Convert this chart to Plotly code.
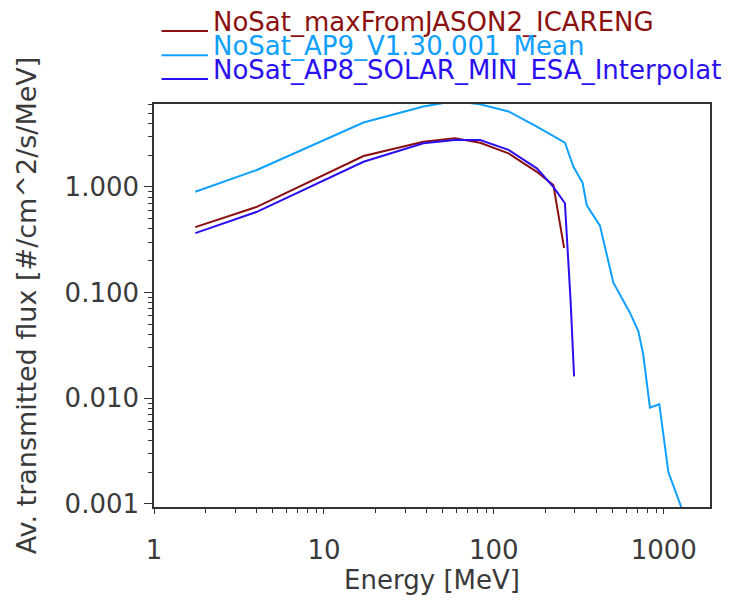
import plotly.graph_objects as go

# ---- data ----
names = ["NoSat_maxFromJASON2_ICARENG",
         "NoSat_AP9_V1.30.001_Mean",
         "NoSat_AP8_SOLAR_MIN_ESA_Interpolat"]
colors = ["#8b1010", "#10a0ff", "#2a10f0"]

jason_E = [1.75, 4.0, 17.1, 38.5, 59, 83, 122, 179, 224, 259]
jason_F = [0.416, 0.645, 1.96, 2.68, 2.89, 2.62, 2.08, 1.39, 1.04, 0.265]

ap9_E = [1.75, 4.0, 17.1, 38.5, 59, 83, 122, 179, 262, 294, 333, 352, 421, 505,
         632, 708, 757, 829, 941, 1064, 1400]
ap9_F = [0.90, 1.44, 4.07, 5.78, 6.5, 6.05, 5.18, 3.73, 2.62, 1.55, 1.09, 0.67, 0.43,
         0.124, 0.0645, 0.0432, 0.0259, 0.00815, 0.00877, 0.002, 0.0006]

ap8_E = [1.75, 4.0, 17.1, 38.5, 59, 83, 122, 179, 224, 262, 283, 296.5]
ap8_F = [0.365, 0.578, 1.73, 2.59, 2.78, 2.78, 2.24, 1.5, 1.0, 0.70, 0.083, 0.0161]

x_tickvals = [1, 10, 100, 1000]
x_ticktext = ["1", "10", "100", "1000"]
y_tickvals = [1, 0.1, 0.01, 0.001]
y_ticktext = ["1.000", "0.100", "0.010", "0.001"]

FONT = "DejaVu Sans"
TXT = "#3a3a3a"
AX = "#333333"

W, H = 734, 601
ML, MR, MT, MB = 154, 24, 104, 94
PW, PH = W - ML - MR, H - MT - MB

fig = go.Figure()
for E, F, n, c in [(jason_E, jason_F, names[0], colors[0]),
                   (ap9_E, ap9_F, names[1], colors[1]),
                   (ap8_E, ap8_F, names[2], colors[2])]:
    fig.add_trace(go.Scatter(x=E, y=F, mode="lines", name=n,
                             line=dict(color=c, width=2), showlegend=False))

# legend drawn as line samples + text (as in the reference)
def px2paper_x(px):
    return (px - ML) / PW

def px2paper_y(py):
    return 1 + (MT - py) / PH

line_y = [31, 55.3, 79]
for i, (n, c) in enumerate(zip(names, colors)):
    fig.add_shape(type="line", xref="paper", yref="paper",
                  x0=px2paper_x(161.5), x1=px2paper_x(208),
                  y0=px2paper_y(line_y[i]), y1=px2paper_y(line_y[i]),
                  line=dict(color=c, width=2))
    fig.add_annotation(xref="paper", yref="paper", x=px2paper_x(211),
                       y=px2paper_y(line_y[i] - 9), xanchor="left", yanchor="middle",
                       text=n, showarrow=False,
                       font=dict(family=FONT, size=26, color=c))

minor_vals = [m * 10 ** k for k in range(-4, 4) for m in range(2, 10)]

fig.update_xaxes(type="log", range=[0, 3.272],
                 tickmode="array", tickvals=x_tickvals, ticktext=x_ticktext,
                 showline=True, linecolor=AX, linewidth=1.5, mirror=True,
                 ticks="outside", ticklen=5, tickcolor=AX, tickwidth=1,
                 ticklabelstandoff=14,
                 minor=dict(tickmode="array", tickvals=minor_vals, ticks="outside",
                            ticklen=4, tickcolor=AX, showgrid=False),
                 showgrid=False, zeroline=False,
                 tickfont=dict(family=FONT, size=26, color=TXT),
                 title=dict(text="Energy [MeV]", standoff=6,
                            font=dict(family=FONT, size=26, color=TXT)))
fig.update_yaxes(type="log", range=[-3.03, 0.785],
                 tickmode="array", tickvals=y_tickvals, ticktext=y_ticktext,
                 showline=True, linecolor=AX, linewidth=1.5, mirror=True,
                 ticks="outside", ticklen=8, tickcolor=AX, tickwidth=1,
                 minor=dict(tickmode="array", tickvals=minor_vals, ticks="outside",
                            ticklen=4, tickcolor=AX, showgrid=False),
                 showgrid=False, zeroline=False,
                 tickfont=dict(family=FONT, size=26, color=TXT),
                 title=dict(text="Av. transmitted flux [#/cm^2/s/MeV]", standoff=20,
                            font=dict(family=FONT, size=27, color=TXT)))

fig.update_layout(width=W, height=H,
                  margin=dict(l=ML, r=MR, t=MT, b=MB, pad=0),
                  paper_bgcolor="white", plot_bgcolor="white",
                  showlegend=False)

fig.write_html("out.html")
